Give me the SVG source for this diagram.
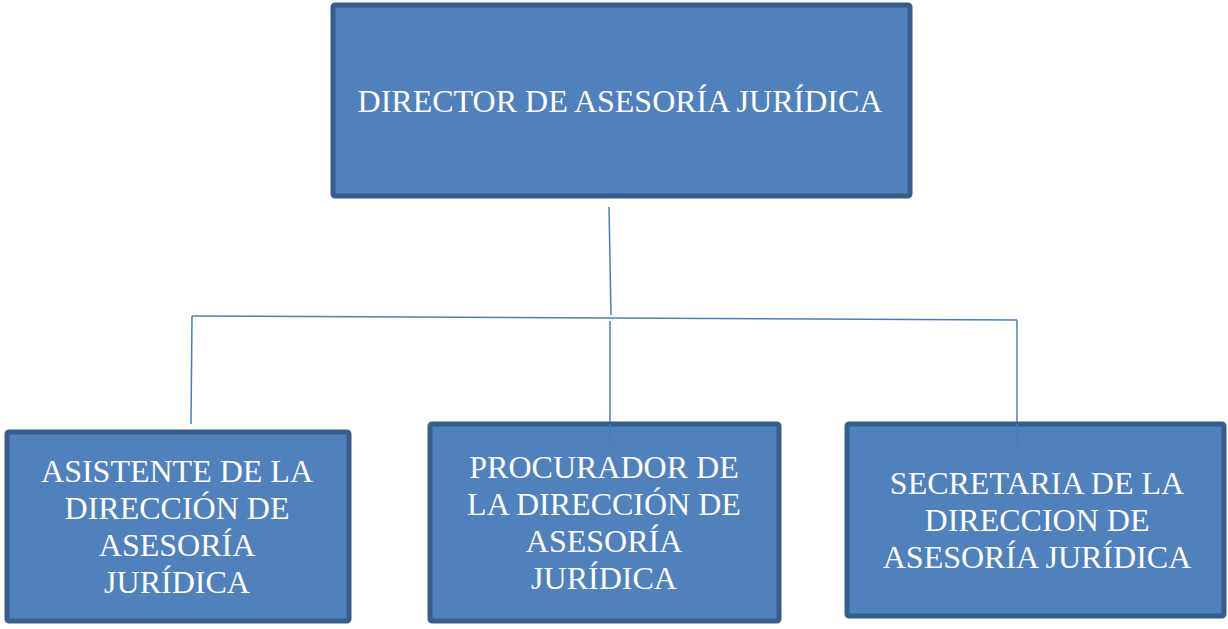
<svg xmlns="http://www.w3.org/2000/svg" width="1228" height="629" viewBox="0 0 1228 629">
<style>
.box{fill:#4F81BD;stroke:#385D8A;stroke-width:5}
.t{font-family:'Liberation Serif',serif;font-size:32px;fill:#FFFFFF;text-anchor:middle}
.c{fill:none;stroke:#4A7EBB;stroke-width:1.5}
</style>
<rect width="1228" height="629" fill="#FFFFFF"/>
<g id="connectors">
<line class="c" x1="609" y1="207" x2="611" y2="315"/>
<line class="c" x1="192" y1="316" x2="1017" y2="320"/>
<line class="c" x1="192" y1="316" x2="191" y2="424"/>
<line class="c" x1="610" y1="321" x2="610" y2="446"/>
<line class="c" x1="1017" y1="320" x2="1017" y2="446"/>
</g>
<g id="director">
<rect class="box" x="333" y="5" width="577" height="191" rx="2"/>
<text class="t" x="620" y="112">DIRECTOR DE ASESORÍA JURÍDICA</text>
</g>
<g id="asistente">
<rect class="box" x="7" y="432" width="342" height="189" rx="2"/>
<text class="t" x="177" y="482">ASISTENTE DE LA</text>
<text class="t" x="177" y="519">DIRECCIÓN DE</text>
<text class="t" x="177" y="556">ASESORÍA</text>
<text class="t" x="177" y="593">JURÍDICA</text>
</g>
<g id="procurador">
<rect class="box" x="430" y="424" width="349" height="197" rx="2"/>
<rect x="609.3" y="424" width="1.5" height="22" fill="#4A7EBB"/>
<text class="t" x="604" y="478">PROCURADOR DE</text>
<text class="t" x="604" y="515">LA DIRECCIÓN DE</text>
<text class="t" x="604" y="552">ASESORÍA</text>
<text class="t" x="604" y="589">JURÍDICA</text>
</g>
<g id="secretaria">
<rect class="box" x="847" y="424" width="377" height="192" rx="2"/>
<rect x="1016.3" y="424" width="1.5" height="22" fill="#4A7EBB"/>
<text class="t" x="1037" y="494">SECRETARIA DE LA</text>
<text class="t" x="1037" y="531">DIRECCION DE</text>
<text class="t" x="1037" y="568">ASESORÍA JURÍDICA</text>
</g>
</svg>
